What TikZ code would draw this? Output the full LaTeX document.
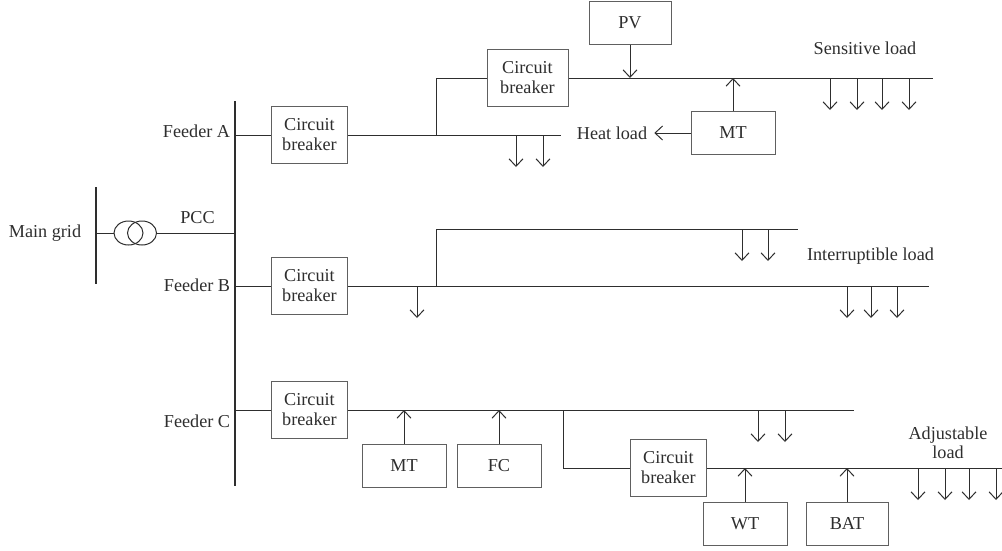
\documentclass[tikz,border=0pt]{standalone}
\usepackage{fontspec}
\setmainfont{Liberation Serif}
\usepackage{tikz}
\usetikzlibrary{arrows.meta,positioning,shapes.geometric}
\definecolor{ink}{HTML}{2E2E2E}
\definecolor{edge}{HTML}{606060}

\begin{document}
\begin{tikzpicture}[
  x=1pt, y=-1pt,
  box/.style={draw=edge, fill=white, line width=1pt, align=center, inner sep=0pt,
              text=ink, minimum width=82pt, minimum height=43pt, font=\fontsize{18.2}{20}\selectfont},
  breaker/.style={box, minimum width=76pt, minimum height=57pt},
  tag/.style={text=ink, inner sep=0pt, align=center, font=\fontsize{18.2}{19.5}\selectfont},
  coil/.style={draw=ink, line width=1pt, ellipse, minimum width=29pt, minimum height=24pt, inner sep=0pt},
  wire/.style={draw=ink, line width=1pt},
  bus/.style={draw=ink, line width=2pt},
  feed/.style={draw=ink, line width=1pt, -{Straight Barb[length=7.5pt,width=14pt,line width=1pt]}},
  >=Stealth]
\useasboundingbox (0,0) rectangle (1002,550);
% buses
\coordinate (gridtop) at (96,187); \coordinate (gridbot) at (96,284);
\coordinate (pcctop) at (235,101); \coordinate (pccbot) at (235,486);
\draw[bus] (gridtop) -- (gridbot);
\draw[bus] (pcctop) -- (pccbot);
% transformer
\node[coil] (trleft) at (128.5,233) {};
\node[coil] (trright) at (142,233) {};
\coordinate (gridtap) at (96,233); \coordinate (pcctap) at (235,233);
\draw[wire] (gridtap) -- (trleft.west);
\draw[wire] (trright.east) -- (pcctap);
% breakers and sources
\node[breaker] (cba) at (309.5,135) {Circuit\\breaker};
\node[breaker] (cbb) at (309.5,286) {Circuit\\breaker};
\node[breaker] (cbc) at (309.5,410) {Circuit\\breaker};
\node[breaker, minimum width=81pt] (cbs) at (527.5,78) {Circuit\\breaker};
\node[breaker] (cbd) at (668.5,468) {Circuit\\breaker};
\node[box] (pv) at (630,22.5) {PV};
\node[box, minimum width=84pt] (mta) at (733,132.5) {MT};
\node[box, minimum width=84pt] (mtc) at (404,465.5) {MT};
\node[box, minimum width=84pt] (fc) at (499,465.5) {FC};
\node[box, minimum width=84pt] (wt) at (745,524) {WT};
\node[box] (bat) at (847,524) {BAT};
% labels
\node[tag] (maingrid) at (45,233) {Main grid};
\node[tag] (pcc) at (197.5,218) {PCC};
\node[tag] (feedera) at (196.5,131) {Feeder A};
\node[tag] (feederb) at (197,285) {Feeder B};
\node[tag] (feederc) at (197,421) {Feeder C};
\node[tag] (heat) at (612,133) {Heat load};
\node[tag] (sensitive) at (865,48) {Sensitive load};
\node[tag] (interrupt) at (870.5,256) {Interruptible load};
\node[tag] (adjust) at (948,443) {Adjustable\\load};
% feeder A
\coordinate (aroot) at (235,135); \coordinate (aend) at (561,135);
\coordinate (ajoint) at (436,135); \coordinate (send) at (933,78);
\draw[wire] (aroot) -- (cba);
\draw[wire] (cba) -- (aend);
\draw[wire] (ajoint) |- (cbs);
\draw[wire] (cbs) -- (send);
\draw[feed] (pv.south) -- (pv.south |- send);
\draw[feed] (mta.north) -- (mta.north |- send);
\draw[feed, shorten >=7pt] (mta.west |- heat) -- (heat.east);
% feeder B
\coordinate (broot) at (235,286); \coordinate (bend) at (929,286);
\coordinate (bjoint) at (436,286); \coordinate (iend) at (798,229);
\draw[wire] (broot) -- (cbb);
\draw[wire] (cbb) -- (bend);
\draw[wire] (bjoint) |- (iend);
% feeder C
\coordinate (croot) at (235,410); \coordinate (cend) at (854,410);
\coordinate (cjoint) at (563,410); \coordinate (dend) at (1002,468);
\draw[wire] (croot) -- (cbc);
\draw[wire] (cbc) -- (cend);
\draw[wire] (cjoint) |- (cbd);
\draw[wire] (cbd) -- (dend);
\draw[feed] (mtc.north) -- (mtc.north |- cend);
\draw[feed] (fc.north) -- (fc.north |- cend);
\draw[feed] (wt.north) -- (wt.north |- dend);
\draw[feed] (bat.north) -- (bat.north |- dend);
% loads
\foreach \n/\px/\py in {a/516/135, b/543/135,
    s/830/78, t/857/78, u/882/78, v/909/78,
    i/417/286, j/742/229, k/768/229, l/847/286, m/871/286, o/897/286,
    p/758/410, q/785/410, r/918/468, w/945/468, x/969/468, y/996/468}{
  \coordinate (\n top) at (\px,\py);
  \coordinate (\n end) at (\px,\py+32);
  \draw[feed] (\n top) -- (\n end);
}
\end{tikzpicture}
\end{document}
